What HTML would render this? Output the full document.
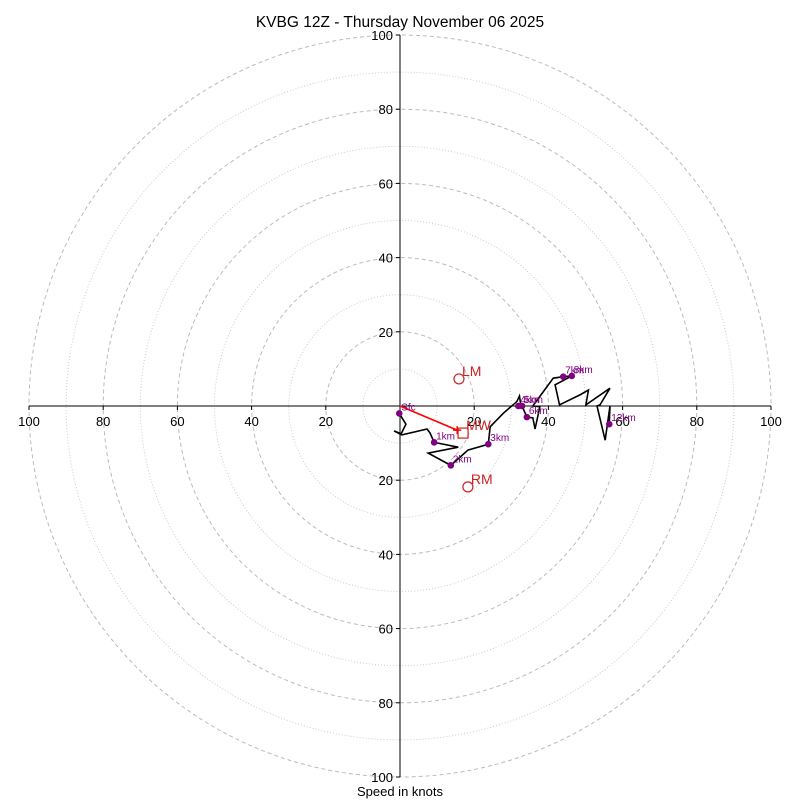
<!DOCTYPE html>
<html><head><meta charset="utf-8"><style>
html,body{margin:0;padding:0;background:#fff;}
svg{display:block;font-family:"Liberation Sans","DejaVu Sans",sans-serif;}
</style></head><body>
<svg id="chart" width="800" height="800" viewBox="0 0 800 800" xmlns="http://www.w3.org/2000/svg">
<text x="400" y="27" text-anchor="middle" font-size="15.5">KVBG 12Z - Thursday November 06 2025</text>
<text x="400" y="796" text-anchor="middle" font-size="13">Speed in knots</text>
<g id="rings"></g><g id="axes"></g><g id="series"></g>
</svg>
<script>
const ringSpeeds=[10,20,30,40,50,60,70,80,90,100];
const tickLabels=[20,40,60,80,100];
const hodoU=[-0.2,1.6,0.3,-1.6,0.5,7.3,8.1,9.2,15.7,7.6,13.7,18.3,23.8,24.3,27.8,31.5,32.2,32.5,31.9,32.9,34.2,35.8,36.4,37.7,35.8,41.3,44.0,46.3,41.8,43.0,48.5,50.8,50.1,56.6,53.9,53.1,55.3,56.6,56.4];
const hodoV=[-2.0,-4.9,-7.5,-6.7,-7.8,-6.2,-7.3,-9.8,-11.1,-12.7,-16.0,-11.9,-10.3,-5.6,-2.0,1.2,2.7,0.7,0,0,-3.0,-3.2,-6.2,-0.2,0,7.5,7.9,8.1,5.7,0.3,3.0,4.3,0.3,4.8,0.3,0,-9.2,0,-4.9];
const levelNames=["Sfc","1km","2km","3km","4km","5km","6km","7km","8km","12km"];
const levelU=[-0.2,9.2,13.7,23.8,31.9,32.9,34.2,44.0,46.3,56.4];
const levelV=[-2.0,-9.8,-16.0,-10.3,0,0,-3.0,7.9,8.1,-4.9];
const stormNames=["LM","RM","MW"];
const stormU=[15.9,18.3,17.0];
const stormV=[7.3,-21.8,-7.3];
const shearU=[0,15.4];
const shearV=[0,-6.5];

const CX=400,CY=406,S=3.71;
const X=u=>CX+u*S, Y=v=>CY-v*S;
const NS="http://www.w3.org/2000/svg";
function mk(tag,parent,attrs){const e=document.createElementNS(NS,tag);for(const k in attrs)e.setAttribute(k,attrs[k]);parent.appendChild(e);return e;}
const rings=document.getElementById('rings'),axes=document.getElementById('axes'),ser=document.getElementById('series');
ringSpeeds.forEach(s=>{
  const major=s%20===0;
  const c=mk('circle',rings,{cx:CX,cy:CY,r:s*S,fill:'none',stroke:major?'#bbb':'#ccc','stroke-width':1,'stroke-dasharray':major?'4,3':'1,2'});
  
  
});
let l=mk('line',axes,{x1:X(-100),y1:CY,x2:X(100),y2:CY,stroke:'#000','stroke-width':1});


l=mk('line',axes,{x1:CX,y1:Y(100),x2:CX,y2:Y(-100),stroke:'#000','stroke-width':1});


tickLabels.forEach(t=>{
  [t,-t].forEach(d=>{
    mk('line',axes,{x1:X(d),y1:CY,x2:X(d),y2:CY+4,stroke:'#000'});
    const tx=mk('text',axes,{x:X(d),y:CY+20,'text-anchor':'middle','font-size':13});
    tx.textContent=t;
    
    
    mk('line',axes,{x1:CX-4,y1:Y(d),x2:CX,y2:Y(d),stroke:'#000'});
    const ty=mk('text',axes,{x:CX-7,y:Y(d)+5,'text-anchor':'end','font-size':13});
    ty.textContent=t;
    
    
  });
});
const pts=hodoU.map((u,i)=>X(u)+','+Y(hodoV[i])).join(' ');
const pl=mk('polyline',ser,{points:pts,fill:'none',stroke:'#000','stroke-width':1.6,'stroke-linejoin':'miter'});


const sh=mk('line',ser,{x1:X(shearU[0]),y1:Y(shearV[0]),x2:X(shearU[1]),y2:Y(shearV[1]),stroke:'red','stroke-width':1.6});


mk('path',ser,{d:`M${X(shearU[1])-4},${Y(shearV[1])}h8M${X(shearU[1])},${Y(shearV[1])-4}v8`,stroke:'red','stroke-width':1.4});
levelNames.forEach((n,i)=>{
  const c=mk('circle',ser,{cx:X(levelU[i]),cy:Y(levelV[i]),r:3.3,fill:'purple'});
  
  
  const t=mk('text',ser,{x:X(levelU[i])+2,y:Y(levelV[i])-3,'font-size':10,fill:'purple'});
  t.textContent=n;
  
  
});
stormNames.forEach((n,i)=>{
  const x=X(stormU[i]),y=Y(stormV[i]);
  let m;
  if(n==='MW') m=mk('rect',ser,{x:x-5,y:y-5,width:10,height:10,fill:'none',stroke:'#c22','stroke-width':1.2});
  else m=mk('circle',ser,{cx:x,cy:y,r:5,fill:'none',stroke:'#c22','stroke-width':1.2});
  
  
  const t=mk('text',ser,{x:x+3,y:y-3,'font-size':14,fill:'#c22'});
  t.textContent=n;
  
  
});
</script>
</body></html>
